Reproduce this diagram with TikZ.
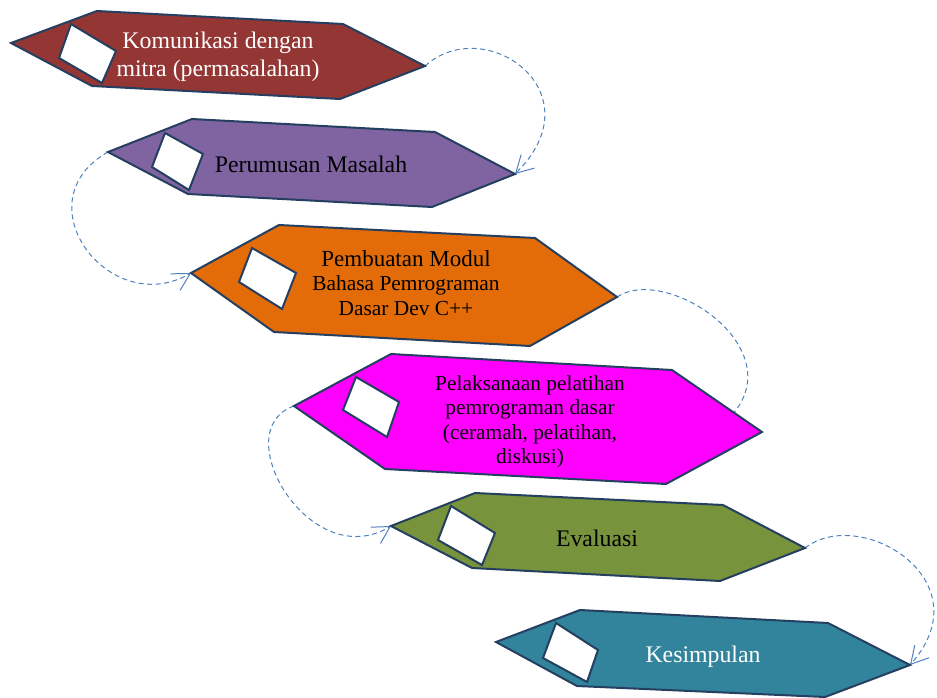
\documentclass[tikz,border=0pt]{standalone}
\usepackage{fontspec}
\setmainfont{Liberation Serif}
\usetikzlibrary{arrows.meta,backgrounds}

\definecolor{edgeblue}{HTML}{243F60}
\definecolor{flowblue}{HTML}{4F81BD}
\definecolor{redstage}{HTML}{943634}
\definecolor{purplestage}{HTML}{8064A2}
\definecolor{orangestage}{HTML}{E36C09}
\definecolor{pinkstage}{HTML}{FF00FF}
\definecolor{olivestage}{HTML}{77933C}
\definecolor{tealstage}{HTML}{31849B}

\begin{document}
\begin{tikzpicture}[
    x=1pt, y=-1pt,
    stage/.style={draw=edgeblue, line width=2pt},
    tick/.style={draw=edgeblue, fill=white, line width=2pt},
    words/.style={align=center, inner sep=0pt},
    big/.style={font=\fontsize{23.8}{28}\selectfont},
    small/.style={font=\fontsize{21.4}{24.5}\selectfont},
    flow/.style={draw=flowblue, line width=1pt, dash pattern=on 5pt off 3.5pt,
        -{Straight Barb[length=17pt, width=19pt, line width=1pt]}}]
    \useasboundingbox (0,0) rectangle (937,698);

    % stage 1
    \filldraw[stage, fill=redstage] (11,43) coordinate (l1) -- (97,11) -- (343,24)
        -- (425,66) coordinate (r1) -- (340,99) -- (92,86) -- cycle;
    \filldraw[tick] (71,24) -- (116,51) -- (102,83) -- (59,58) -- cycle;
    \node[words, big, text=white] (t1) at (218,57) {Komunikasi dengan\\mitra (permasalahan)};

    % stage 2
    \filldraw[stage, fill=purplestage] (108,152) coordinate (l2) -- (192,119) -- (435,132)
        -- (515,174) coordinate (r2) -- (432,207) -- (188,194) -- cycle;
    \filldraw[tick] (165,133) -- (203,154) -- (189,190) -- (152,167) -- cycle;
    \node[words, big] (t2) at (311,164) {Perumusan Masalah};

    % stage 3
    \filldraw[stage, fill=orangestage] (191,273) coordinate (l3) -- (279,225) -- (535,238)
        -- (617,297) coordinate (r3) -- (530,346) -- (274,332) -- cycle;
    \filldraw[tick] (252,248) -- (296,273) -- (282,309) -- (239,282) -- cycle;
    \node[words, small] (t3) at (406,283)
        {{\fontsize{23}{26}\selectfont Pembuatan Modul}\\Bahasa Pemrograman\\Dasar Dev C++};

    % stage 4
    \filldraw[stage, fill=pinkstage] (294,406) coordinate (l4) -- (391,354) -- (672,370)
        -- (762,432) coordinate (r4) -- (666,484) -- (385,469) -- cycle;
    \filldraw[tick] (356,377) -- (399,402) -- (387,437) -- (343,410) -- cycle;
    \coordinate (h4) at (715,430);
    \node[words, small] (t4) at (530,422)
        {Pelaksanaan pelatihan\\pemrograman dasar\\(ceramah, pelatihan,\\diskusi)};

    % stage 5
    \filldraw[stage, fill=olivestage] (391,526) coordinate (l5) -- (475,493) -- (723,505)
        -- (805,548) coordinate (r5) -- (720,581) -- (472,568) -- cycle;
    \filldraw[tick] (451,506) -- (495,533) -- (482,565) -- (438,540) -- cycle;
    \node[words, big] (t5) at (597,538) {Evaluasi};

    % stage 6
    \filldraw[stage, fill=tealstage] (496,642) coordinate (l6) -- (580,610) -- (828,623)
        -- (910,665) coordinate (r6) -- (825,697) -- (577,686) -- cycle;
    \filldraw[tick] (556,623) -- (598,650) -- (587,682) -- (543,658) -- cycle;
    \node[words, big, text=white] (t6) at (703,657) {Kesimpulan};

    % dashed loops between the stages
    \begin{scope}[on background layer]
        \draw[flow] (r1) .. controls +(60,-54) and +(83,-82) .. (r2);
        \draw[flow] (l2) .. controls +(-88,50) and +(-81,47) .. (l3);
        \draw[flow] (r3) .. controls +(53,-35) and +(95,-70) .. (h4);
        \draw[flow] (l4) .. controls +(-69,24) and +(-81,49) .. (l5);
        \draw[flow] (r5) .. controls +(55,-43) and +(75,-85) .. (r6);
    \end{scope}
\end{tikzpicture}
\end{document}
